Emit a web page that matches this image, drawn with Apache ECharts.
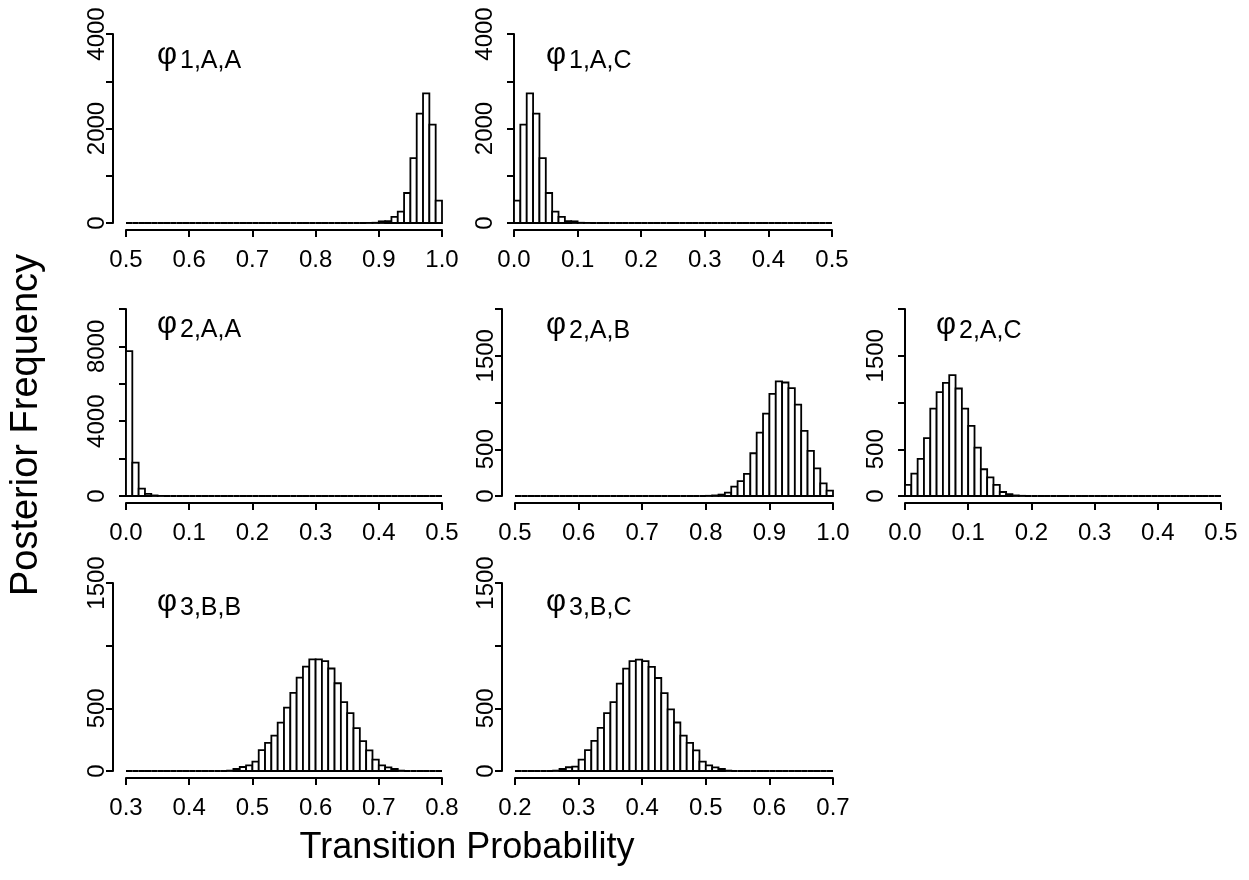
<!DOCTYPE html>
<html>
<head>
<meta charset="utf-8">
<script src="https://cdn.jsdelivr.net/npm/echarts@6/dist/echarts.min.js"></script>
<style>
html,body{margin:0;padding:0;background:#fff;}
#chart{width:1249px;height:880px;}
</style>
</head>
<body>
<div id="chart"></div>
<script>
// ---- Data: posterior histograms, 50 bins of width 0.01 each ----
const binWidth = 0.01;

const phi1AA_start = 0.5;
const phi1AA_counts = [0,0,0,0,0,0,0,0,0,0, 0,0,0,0,0,0,0,0,0,0, 0,0,0,0,0,0,0,0,0,0, 0,0,0,0,0,0,0,0,2,5, 35,40,130,240,635,1375,2315,2745,2080,475];

const phi1AC_start = 0.0;
const phi1AC_counts = [475,2080,2745,2315,1375,635,240,130,40,35, 5,2,0,0,0,0,0,0,0,0, 0,0,0,0,0,0,0,0,0,0, 0,0,0,0,0,0,0,0,0,0, 0,0,0,0,0,0,0,0,0,0];

const phi2AA_start = 0.0;
const phi2AA_counts = [7750,1790,390,110,30,5,0,0,0,0, 0,0,0,0,0,0,0,0,0,0, 0,0,0,0,0,0,0,0,0,0, 0,0,0,0,0,0,0,0,0,0, 0,0,0,0,0,0,0,0,0,0];

const phi2AB_start = 0.5;
const phi2AB_counts = [0,0,0,0,0,0,0,0,0,0, 0,0,0,0,0,0,0,0,0,0, 0,0,0,0,0,0,0,0,0,0, 2,6,15,36,100,160,236,457,678,882, 1093,1225,1214,1153,978,696,482,296,136,57];

const phi2AC_start = 0.0;
const phi2AC_counts = [118,239,396,618,935,1110,1210,1292,1150,935, 750,518,286,200,118,43,21,6,2,0, 0,0,0,0,0,0,0,0,0,0, 0,0,0,0,0,0,0,0,0,0, 0,0,0,0,0,0,0,0,0,0];

const phi3BB_start = 0.3;
const phi3BB_counts = [0,0,0,0,0,0,0,0,0,0, 0,0,0,0,0,0,3,16,32,45, 75,166,224,282,386,505,623,745,832,890, 890,876,818,700,550,462,342,238,164,91, 45,29,16,3,0,0,0,0,0,0];

const phi3BC_start = 0.2;
const phi3BC_counts = [0,0,0,0,0,0,3,16,30,35, 91,166,240,344,462,550,697,817,876,889, 876,830,742,622,491,387,283,224,165,75, 45,29,16,3,0,0,0,0,0,0, 0,0,0,0,0,0,0,0,0,0];

// axis ranges and tick labels
const xRanges = [[0.5,1.0],[0.0,0.5],[0.0,0.5],[0.5,1.0],[0.0,0.5],[0.3,0.8],[0.2,0.7]];
const yMax = [4000,4000,10000,2000,2000,1500,1500];
const yTickStep = [1000,1000,2000,500,500,500,500];
const yLabelsShown = [[0,2000,4000],[0,2000,4000],[0,4000,8000],[0,500,1500],[0,500,1500],[0,500,1500],[0,500,1500]];
const panelSubs = ['1,A,A','1,A,C','2,A,A','2,A,B','2,A,C','3,B,B','3,B,C'];
const yTitle = 'Posterior Frequency';
const xTitle = 'Transition Probability';

const panels = [
  [phi1AA_start, phi1AA_counts],
  [phi1AC_start, phi1AC_counts],
  [phi2AA_start, phi2AA_counts],
  [phi2AB_start, phi2AB_counts],
  [phi2AC_start, phi2AC_counts],
  [phi3BB_start, phi3BB_counts],
  [phi3BC_start, phi3BC_counts]
];

// ---- Layout (pixels) ----
const gridRects = [
  {left:126, top:34,  width:316, height:189},
  {left:514, top:34,  width:318, height:189},
  {left:126, top:309, width:316, height:187},
  {left:515, top:309, width:318, height:187},
  {left:905, top:309, width:316, height:187},
  {left:126, top:583, width:316, height:188},
  {left:515, top:583, width:318, height:188}
];
const titlePos = [[157,40],[546,40],[157,309],[546,310],[936,310],[157,587],[546,587]];

const FONT = '"Liberation Sans", Arial, Helvetica, sans-serif';

function binsData(start, counts){
  return counts.map((c,i)=>{
    const x0 = +(start + i*binWidth).toFixed(4);
    const x1 = +(start + (i+1)*binWidth).toFixed(4);
    return [x0, x1, c];
  });
}

function renderHist(params, api){
  const p0 = api.coord([api.value(0), 0]);
  const p1 = api.coord([api.value(1), api.value(2)]);
  return {
    type:'rect',
    shape:{x:p0[0], y:p1[1], width:p1[0]-p0[0], height:p0[1]-p1[1]},
    style:{fill:'#ffffff', stroke:'#000000', lineWidth:1.8}
  };
}

const grid=[], xAxis=[], yAxis=[], series=[], graphic=[];
panels.forEach((p,i)=>{
  grid.push(Object.assign({containLabel:false}, gridRects[i]));
  xAxis.push({
    type:'value', gridIndex:i, min:xRanges[i][0], max:xRanges[i][1], interval:0.1,
    offset:7,
    axisLine:{show:true, onZero:false, lineStyle:{color:'#000', width:2}},
    axisTick:{show:true, length:7, lineStyle:{color:'#000', width:2}},
    splitLine:{show:false},
    axisLabel:{show:true, color:'#000', fontFamily:FONT, fontSize:24, margin:18,
      formatter:(v)=>v.toFixed(1), showMinLabel:true, showMaxLabel:true}
  });
  const shown = yLabelsShown[i];
  yAxis.push({
    type:'value', gridIndex:i, min:0, max:yMax[i], interval:yTickStep[i],
    offset:13,
    axisLine:{show:true, lineStyle:{color:'#000', width:2}},
    axisTick:{show:true, length:7, lineStyle:{color:'#000', width:2}},
    splitLine:{show:false},
    axisLabel:{show:true, color:'#000', fontFamily:FONT, fontSize:24, margin:4, rotate:90,
      showMinLabel:true, showMaxLabel:true,
      formatter:(v)=> shown.some(s=>Math.abs(s-v)<1e-6) ? String(Math.round(v)) : ''}
  });
  series.push({
    type:'custom', xAxisIndex:i, yAxisIndex:i,
    renderItem:renderHist,
    encode:{x:[0,1], y:2},
    data:binsData(p[0], p[1]),
    silent:true, clip:false
  });
  graphic.push({type:'text', left:titlePos[i][0], top:titlePos[i][1],
    style:{text:'\u03C6', font:'31px '+FONT, fill:'#000'}});
  graphic.push({type:'text', left:titlePos[i][0]+23, top:titlePos[i][1]+9,
    style:{text:panelSubs[i], font:'25px '+FONT, fill:'#000'}});
});

graphic.push({type:'text', x:27, y:425, rotation:Math.PI/2,
  style:{text:yTitle, font:'38px '+FONT, fill:'#000', align:'center', verticalAlign:'middle'}});
graphic.push({type:'text', x:467, y:848,
  style:{text:xTitle, font:'36px '+FONT, fill:'#000', align:'center', verticalAlign:'middle'}});

const chart = echarts.init(document.getElementById('chart'), null, {renderer:'canvas'});
chart.setOption({
  animation:false,
  backgroundColor:'#ffffff',
  grid, xAxis, yAxis, series, graphic
});
</script>
</body>
</html>
